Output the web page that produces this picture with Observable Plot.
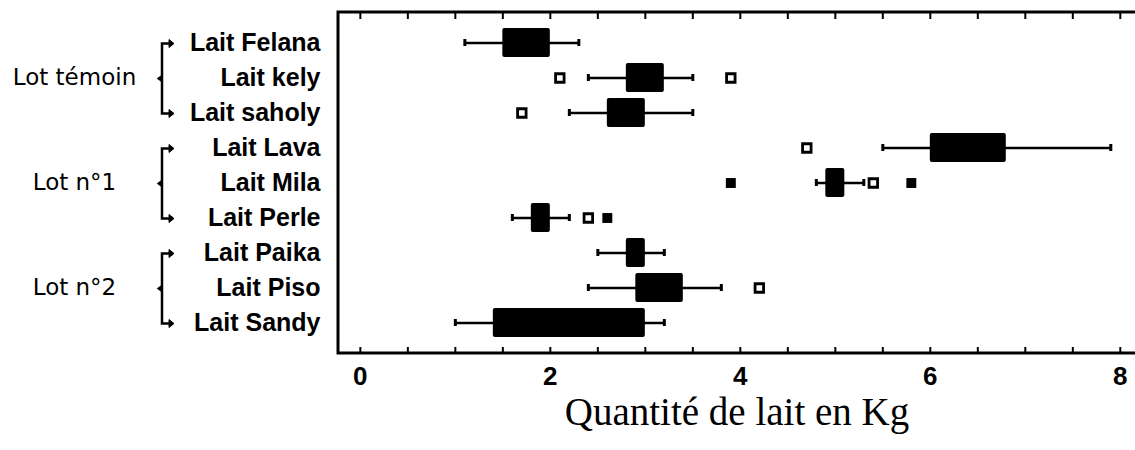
<!DOCTYPE html>
<html><head><meta charset="utf-8">
<script src="https://cdn.jsdelivr.net/npm/d3@7"></script>
<script src="https://cdn.jsdelivr.net/npm/@observablehq/plot@0.6"></script>
<style>body{margin:0;background:#fff;}#chart svg{display:block;}</style>
</head><body><div id="chart"></div>
<script>
// ---- data ----
const categories = ["Lait Felana","Lait kely","Lait saholy","Lait Lava","Lait Mila","Lait Perle","Lait Paika","Lait Piso","Lait Sandy"];
const whiskerLow  = [1.1, 2.4, 2.2, 5.5, 4.8, 1.6, 2.5, 2.4, 1.0];
const quartile1   = [1.5, 2.8, 2.6, 6.0, 4.9, 1.8, 2.8, 2.9, 1.4];
const quartile3   = [2.0, 3.2, 3.0, 6.8, 5.1, 2.0, 3.0, 3.4, 3.0];
const whiskerHigh = [2.3, 3.5, 3.5, 7.9, 5.3, 2.2, 3.2, 3.8, 3.2];

const outlierCategory = ["Lait kely","Lait kely","Lait saholy","Lait Lava","Lait Mila","Lait Mila","Lait Mila","Lait Perle","Lait Perle","Lait Piso"];
const outlierValue    = [2.1, 3.9, 1.7, 4.7, 3.9, 5.4, 5.8, 2.4, 2.6, 4.2];
const outlierFar      = [false, false, false, false, true, false, true, false, true, false];

const groups      = ["Lot témoin", "Lot n°1", "Lot n°2"];
const groupFirst  = ["Lait Felana", "Lait Lava", "Lait Paika"];
const groupMiddle = ["Lait kely", "Lait Mila", "Lait Piso"];
const groupLast   = ["Lait saholy", "Lait Perle", "Lait Sandy"];

const xTickLabels = [0, 2, 4, 6, 8];
const xMinorTicks = [0, 0.5, 1, 1.5, 2, 2.5, 3, 3.5, 4, 4.5, 5, 5.5, 6, 6.5, 7, 7.5, 8];
const xTitle = "Quantité de lait en Kg";

// ---- tables ----
const boxes = categories.map((c, i) => ({cat: c, lo: whiskerLow[i], q1: quartile1[i], q3: quartile3[i], hi: whiskerHigh[i]}));
const outliers = outlierCategory.map((c, i) => ({cat: c, v: outlierValue[i], far: outlierFar[i]}));

const W = 1135, H = 450, ML = 338, MR = 0, MT = 12, MB = 97;

const plot = Plot.plot({
  width: W, height: H,
  marginLeft: ML, marginRight: MR, marginTop: MT, marginBottom: MB,
  x: {domain: [-0.23, 8.16]},
  y: {domain: categories, paddingInner: 0, paddingOuter: 0.25},
  style: {fontFamily: "Liberation Sans, Arial, sans-serif", color: "black", background: "white"},
  marks: [
    Plot.axisX({anchor: "top", ticks: xMinorTicks, tickSize: 6, dy: 6, strokeWidth: 2, tickFormat: () => "", label: null}),
    Plot.axisX({anchor: "bottom", ticks: xMinorTicks, tickSize: 6, dy: -6, strokeWidth: 2, tickFormat: () => "", label: null}),
    Plot.axisX({anchor: "bottom", ticks: xTickLabels, tickSize: 0, tickPadding: 13, fontSize: 26, fontWeight: "bold", label: null}),
    Plot.axisY({tickSize: 0, tickPadding: 18, fontSize: 25, fontWeight: "bold", label: null}),
    Plot.ruleY(boxes, {y: "cat", x1: "lo", x2: "hi", stroke: "black", strokeWidth: 2.5}),
    Plot.tickX(boxes, {y: "cat", x: "lo", insetTop: 14, insetBottom: 14, stroke: "black", strokeWidth: 3}),
    Plot.tickX(boxes, {y: "cat", x: "hi", insetTop: 14, insetBottom: 14, stroke: "black", strokeWidth: 3}),
    Plot.barX(boxes, {y: "cat", x1: "q1", x2: "q3", fill: "black", insetTop: 3, insetBottom: 3, rx: 2}),
    Plot.dot(outliers.filter(d => !d.far), {x: "v", y: "cat", symbol: "square", r: 4.8, fill: "white", stroke: "black", strokeWidth: 2.8}),
    Plot.dot(outliers.filter(d => d.far), {x: "v", y: "cat", symbol: "square", r: 5.6, fill: "black", stroke: "none"}),
    Plot.text(groups, {y: groupMiddle, frameAnchor: "left", dx: 74 - ML, textAnchor: "middle", fontFamily: "DejaVu Sans, Verdana, sans-serif", fontSize: 23, fill: "black"}),
    Plot.text([xTitle], {frameAnchor: "bottom", lineAnchor: "middle", dy: 59, fontFamily: "Liberation Serif, Times New Roman, serif", fontSize: 39, fill: "black"})
  ]
});

document.getElementById("chart").appendChild(plot);

// frame (top, left, bottom; right side runs off the image) and group brackets
const svg = d3.select(plot);
svg.append("path")
  .attr("d", `M${W},${MT}H${ML}V${H - MB}H${W}`)
  .attr("fill", "none").attr("stroke", "black").attr("stroke-width", 3);

const sy = plot.scale("y");
const yc = c => sy.apply(c) + sy.bandwidth / 2;
const bx = 162;
groups.forEach((g, i) => {
  const t = yc(groupFirst[i]) + 1, b = yc(groupLast[i]) + 1, m = yc(groupMiddle[i]) + 1;
  const gg = svg.append("g").attr("stroke", "black").attr("fill", "black");
  gg.append("path").attr("d", `M${bx + 8},${t}H${bx}V${b}H${bx + 8}`).attr("fill", "none").attr("stroke-width", 2.5);
  gg.append("path").attr("d", `M${bx + 7},${t - 4}L${bx + 12},${t}L${bx + 7},${t + 4}Z`).attr("stroke-width", 1);
  gg.append("path").attr("d", `M${bx + 7},${b - 4}L${bx + 12},${b}L${bx + 7},${b + 4}Z`).attr("stroke-width", 1);
  gg.append("path").attr("d", `M${bx},${m - 3}L${bx - 4},${m}L${bx},${m + 3}Z`).attr("stroke-width", 1.5);
});
</script>
</body></html>
